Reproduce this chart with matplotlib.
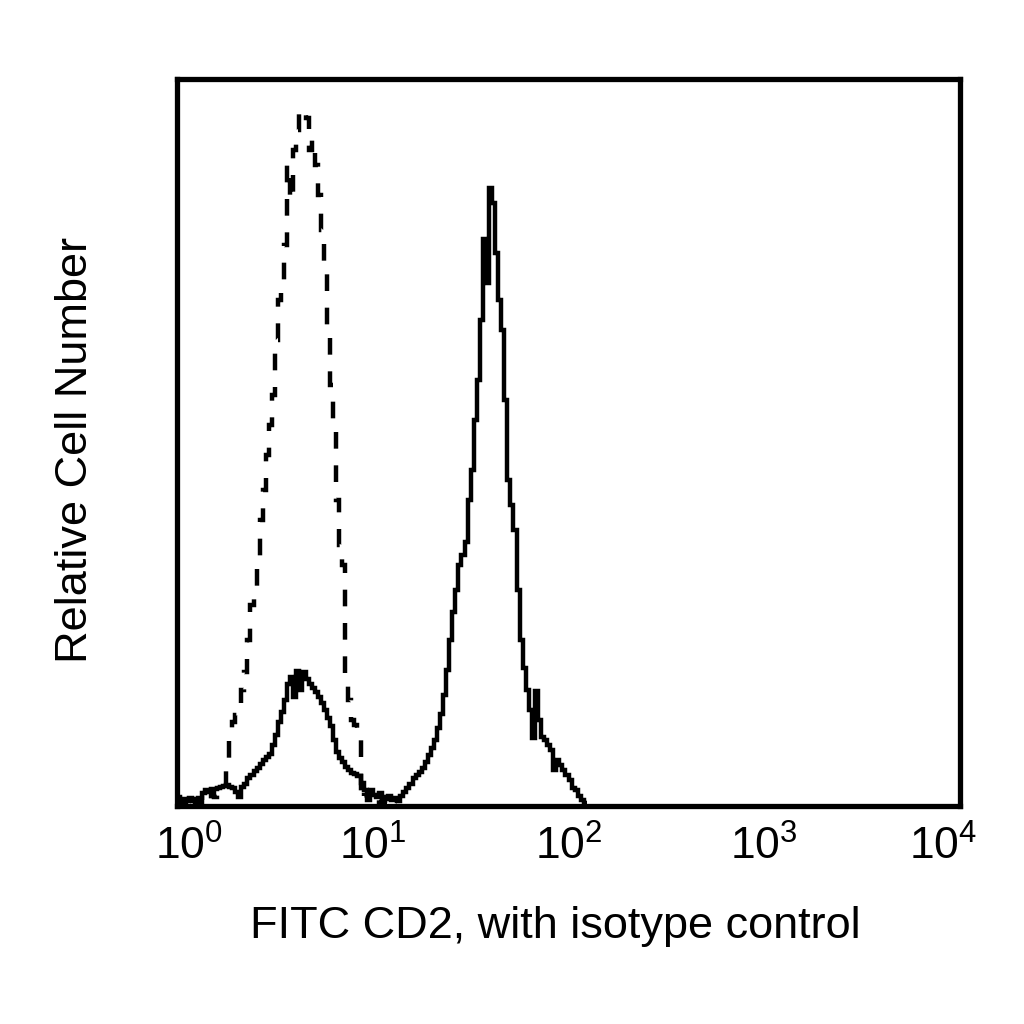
import numpy as np
import matplotlib
matplotlib.use("Agg")
import matplotlib.pyplot as plt
import matplotlib.transforms as mtransforms

plt.rcParams['font.family'] = ['Liberation Sans', 'DejaVu Sans']
plt.rcParams['mathtext.fontset'] = 'custom'
plt.rcParams['mathtext.rm'] = 'Liberation Sans'
plt.rcParams['mathtext.it'] = 'Liberation Sans'
plt.rcParams['lines.scale_dashes'] = False

# 256 log channels over 4 decades; heights as % of full scale
n_channels = 256
decades = 4

cd2_counts = [
    1.2, 0.6, 1.0, 0.7, 1.1, 0.7, 1.0, 0.4, 1.8, 2.2,
    1.9, 2.3, 2.3, 2.5, 2.6, 2.8, 2.9, 2.6, 2.5, 1.9,
    1.2, 2.6, 3.0, 3.9, 4.3, 4.8, 5.2, 5.8, 6.3, 6.7,
    7.2, 8.4, 9.8, 11.6, 12.9, 14.6, 16.8, 17.7, 15.0, 18.5,
    16.0, 18.4, 17.5, 16.8, 16.2, 15.7, 15.0, 14.2, 13.2, 12.1,
    11.0, 9.1, 7.4, 6.6, 6.1, 5.4, 5.0, 4.5, 4.4, 4.1,
    3.2, 2.2, 1.5, 2.2, 1.5, 1.2, 1.8, 1.2, 1.0, 1.4,
    0.8, 1.1, 0.7, 1.4, 1.9, 2.5, 3.0, 3.9, 4.3, 4.7,
    5.2, 6.1, 7.0, 8.0, 9.1, 10.7, 12.7, 15.3, 18.7, 22.8,
    26.7, 29.7, 33.1, 34.5, 36.3, 42.1, 46.2, 53.1, 58.6, 66.9,
    78.0, 72.0, 85.0, 83.0, 76.1, 69.6, 65.5, 55.8, 44.8, 41.4,
    38.0, 29.7, 22.8, 19.0, 16.0, 13.2, 9.4, 15.8, 11.8, 9.5,
    9.1, 8.4, 7.7, 5.0, 6.3, 5.6, 5.0, 4.3, 3.6, 2.5,
    2.2, 1.4, 0.8, 0.4,
]

isotype_counts = [
    0.4, 0.8, 0.4, 0.7, 0.3, 0.8, 0.4, 1.1, 0.8, 1.4,
    1.0, 1.8, 1.2, 1.5, 1.9, 2.2, 6.3, 9.8, 11.6, 12.5,
    13.9, 16.0, 18.4, 22.8, 27.6, 29.0, 33.8, 39.3, 43.5, 48.3,
    52.4, 56.5, 64.1, 69.6, 71.0, 77.2, 88.2, 83.4, 90.2, 93.0,
    95.7, 95.3, 94.6, 90.2, 91.6, 88.2, 84.0, 79.2, 74.4, 65.5,
    57.9, 51.7, 42.1, 35.9, 33.1, 17.3, 14.6, 11.8, 11.1, 9.1,
    0.8, 1.5, 0.8, 1.2, 0.6, 1.0, 0.5, 0.9, 0.4, 0.7,
    0.3, 0.5,
]

tick_values = [1, 10, 100, 1000, 10000]
tick_labels = [r'$10^{0}$', r'$10^{1}$', r'$10^{2}$', r'$10^{3}$', r'$10^{4}$']
x_label = 'FITC CD2, with isotype control'
y_label = 'Relative Cell Number'

edges_all = 10 ** (np.arange(n_channels + 1) * decades / n_channels)

fig = plt.figure(figsize=(10.24, 10.24), dpi=100)
ax = fig.add_axes([0.1729, 0.2129, 0.7646, 0.7100])

lw = 3.2
ax.stairs(cd2_counts, edges_all[:len(cd2_counts) + 1], color='black',
          linewidth=lw, baseline=None)
ax.stairs(isotype_counts, edges_all[:len(isotype_counts) + 1], color='black',
          linewidth=lw, linestyle=(0, (12, 12)), baseline=None)

ax.set_xscale('log')
ax.set_xlim(1, 1e4)
ax.set_ylim(0, 100)
ax.set_yticks([])
ax.minorticks_off()
ax.set_xticks(tick_values)
ax.set_xticklabels(tick_labels, fontsize=32)
ax.tick_params(axis='x', length=0, pad=14, which='both')
ax.xaxis.set_minor_locator(matplotlib.ticker.NullLocator())

labels = ax.get_xticklabels()
labels[0].set_transform(labels[0].get_transform() +
                        mtransforms.ScaledTranslation(12 / 100, 0, fig.dpi_scale_trans))
labels[-1].set_transform(labels[-1].get_transform() +
                         mtransforms.ScaledTranslation(-17 / 100, 0, fig.dpi_scale_trans))

for s in ax.spines.values():
    s.set_linewidth(3.8)
    s.set_color('black')

ax.set_xlabel(x_label, fontsize=32.5, labelpad=27)
ax.set_ylabel(y_label, fontsize=32.5, labelpad=58)
ax.xaxis.label.set_x(0.4834)
ax.yaxis.label.set_y(0.490)

fig.savefig('out.png', dpi=100, facecolor='white')
